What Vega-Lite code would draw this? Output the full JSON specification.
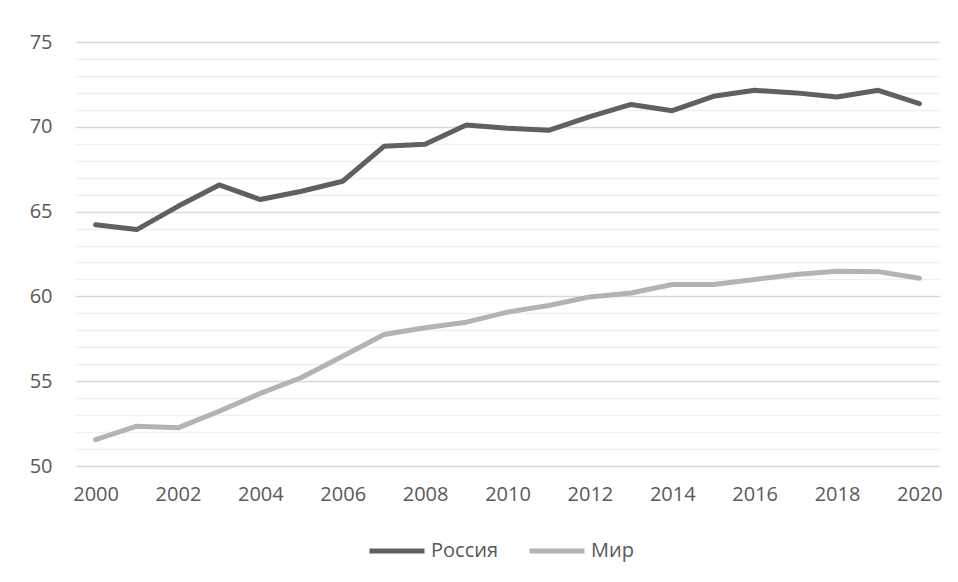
{
  "$schema": "https://vega.github.io/schema/vega-lite/v6.json",
  "autosize": {"type": "none"},
  "width": 865,
  "height": 424,
  "padding": {"left": 75, "top": 42, "right": 18, "bottom": 116},
  "background": "#ffffff",
  "config": {
    "view": {"stroke": null},
    "font": "Open Sans"
  },
  "data": {
    "values": [
      {"year": 2000, "region": "Россия", "value": 64.22},
      {"year": 2001, "region": "Россия", "value": 63.94},
      {"year": 2002, "region": "Россия", "value": 65.31},
      {"year": 2003, "region": "Россия", "value": 66.57},
      {"year": 2004, "region": "Россия", "value": 65.71},
      {"year": 2005, "region": "Россия", "value": 66.2},
      {"year": 2006, "region": "Россия", "value": 66.79},
      {"year": 2007, "region": "Россия", "value": 68.85},
      {"year": 2008, "region": "Россия", "value": 68.97},
      {"year": 2009, "region": "Россия", "value": 70.11},
      {"year": 2010, "region": "Россия", "value": 69.91},
      {"year": 2011, "region": "Россия", "value": 69.79},
      {"year": 2012, "region": "Россия", "value": 70.6},
      {"year": 2013, "region": "Россия", "value": 71.32},
      {"year": 2014, "region": "Россия", "value": 70.95},
      {"year": 2015, "region": "Россия", "value": 71.8},
      {"year": 2016, "region": "Россия", "value": 72.15},
      {"year": 2017, "region": "Россия", "value": 72.0},
      {"year": 2018, "region": "Россия", "value": 71.76},
      {"year": 2019, "region": "Россия", "value": 72.15},
      {"year": 2020, "region": "Россия", "value": 71.36},
      {"year": 2000, "region": "Мир", "value": 51.55},
      {"year": 2001, "region": "Мир", "value": 52.35},
      {"year": 2002, "region": "Мир", "value": 52.25},
      {"year": 2003, "region": "Мир", "value": 53.23},
      {"year": 2004, "region": "Мир", "value": 54.28},
      {"year": 2005, "region": "Мир", "value": 55.22},
      {"year": 2006, "region": "Мир", "value": 56.47},
      {"year": 2007, "region": "Мир", "value": 57.75},
      {"year": 2008, "region": "Мир", "value": 58.15},
      {"year": 2009, "region": "Мир", "value": 58.48},
      {"year": 2010, "region": "Мир", "value": 59.07},
      {"year": 2011, "region": "Мир", "value": 59.46},
      {"year": 2012, "region": "Мир", "value": 59.97},
      {"year": 2013, "region": "Мир", "value": 60.2},
      {"year": 2014, "region": "Мир", "value": 60.7},
      {"year": 2015, "region": "Мир", "value": 60.7},
      {"year": 2016, "region": "Мир", "value": 61.0},
      {"year": 2017, "region": "Мир", "value": 61.29},
      {"year": 2018, "region": "Мир", "value": 61.48},
      {"year": 2019, "region": "Мир", "value": 61.46},
      {"year": 2020, "region": "Мир", "value": 61.07}
    ]
  },
  "mark": {"type": "line", "strokeWidth": 5, "strokeCap": "round", "strokeJoin": "round"},
  "encoding": {
    "x": {
      "field": "year",
      "type": "quantitative",
      "scale": {"domain": [1999.5, 2020.5], "nice": false, "zero": false},
      "axis": {
        "title": null,
        "values": [2000, 2002, 2004, 2006, 2008, 2010, 2012, 2014, 2016, 2018, 2020],
        "format": "d",
        "grid": false,
        "domain": false,
        "ticks": false,
        "labelPadding": 18,
        "labelFont": "Open Sans",
        "labelFontSize": 20,
        "labelColor": "#595959"
      }
    },
    "y": {
      "field": "value",
      "type": "quantitative",
      "scale": {"domain": [50, 75], "nice": false, "zero": false},
      "axis": {
        "title": null,
        "values": [50, 51, 52, 53, 54, 55, 56, 57, 58, 59, 60, 61, 62, 63, 64, 65, 66, 67, 68, 69, 70, 71, 72, 73, 74, 75],
        "labelExpr": "datum.value % 5 === 0 ? datum.label : ''",
        "grid": true,
        "gridColor": {"condition": {"test": "datum.value % 5 === 0", "value": "#d9d9d9"}, "value": "#f0f0f0"},
        "gridWidth": 1.3,
        "domain": false,
        "ticks": false,
        "labelPadding": 23,
        "labelFont": "Open Sans",
        "labelFontSize": 20,
        "labelColor": "#595959"
      }
    },
    "color": {
      "field": "region",
      "type": "nominal",
      "scale": {"domain": ["Россия", "Мир"], "range": ["#606060", "#b3b3b3"]},
      "legend": {
        "title": null,
        "orient": "none",
        "legendX": 292,
        "legendY": 479,
        "direction": "horizontal",
        "symbolType": "stroke",
        "symbolSize": 3025,
        "symbolStrokeWidth": 5,
        "columnPadding": 20,
        "labelOffset": 4,
        "labelFont": "Open Sans",
        "labelFontSize": 20,
        "labelColor": "#595959"
      }
    }
  }
}
